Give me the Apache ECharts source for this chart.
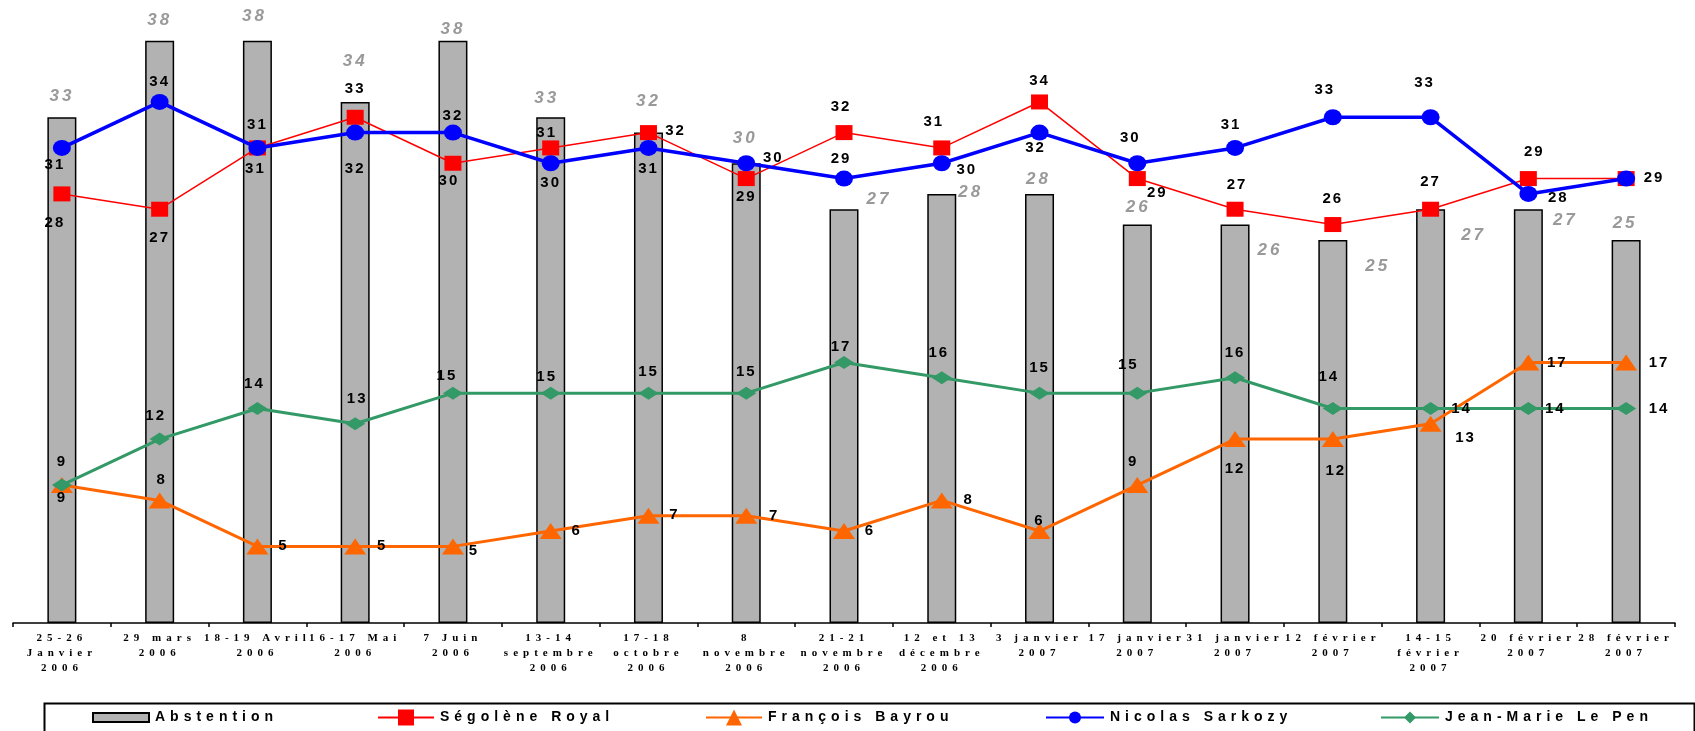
<!DOCTYPE html>
<html>
<head>
<meta charset="utf-8">
<script src="https://cdn.jsdelivr.net/npm/echarts@6/dist/echarts.min.js"></script>
<style>
html,body{margin:0;padding:0;background:#fff;}
#c{width:1695px;height:731px;}
</style>
</head>
<body>
<div id="c"></div>
<script>
// ---- data ----
const categories = [
  "25-26\nJanvier\n2006", "29 mars\n2006", "18-19 Avril\n2006", "16-17 Mai\n2006", "7 Juin\n2006",
  "13-14\nseptembre\n2006", "17-18\noctobre\n2006", "8\nnovembre\n2006", "21-21\nnovembre\n2006",
  "12 et 13\ndécembre\n2006", "3 janvier\n2007", "17 janvier\n2007", "31 janvier\n2007",
  "12 février\n2007", "14-15\nfévrier\n2007", "20 février\n2007", "28 février\n2007"
];
const abstention = [33, 38, 38, 34, 38, 33, 32, 30, 27, 28, 28, 26, 26, 25, 27, 27, 25];
const royal      = [28, 27, 31, 33, 30, 31, 32, 29, 32, 31, 34, 29, 27, 26, 27, 29, 29];
const bayrou     = [9, 8, 5, 5, 5, 6, 7, 7, 6, 8, 6, 9, 12, 12, 13, 17, 17];
const sarkozy    = [31, 34, 31, 32, 32, 30, 31, 30, 29, 30, 32, 30, 31, 33, 33, 28, 29];
const lepen      = [9, 12, 14, 13, 15, 15, 15, 15, 17, 16, 15, 15, 16, 14, 14, 14, 14];
const seriesNames = ["Abstention", "Ségolène Royal", "François Bayrou", "Nicolas Sarkozy", "Jean-Marie Le Pen"];

// ---- label placement (style only) ----
const barLabelOffsets = [[0,-21],[0,-20],[-3,-24],[0,-41],[0,-11],[-4,-19],[0,-31],[-1,-25],[35,-10],[29,-2],[-1,-15],[1,-17],[35,26],[45,26],[43,26],[37,11],[-1,-17]];
const sarkozyOff = [[-7,17],[0,-20],[0,-23],[0,36],[0,-17],[0,20],[0,21],[27,-5],[-3,-20],[25,7],[-4,15],[-7,-25],[-4,-23],[-8,-27],[-6,-34],[30,4],[28,-1]];
const royalOff = [[-7,29],[0,29],[-2,21],[0,-28],[-4,18],[-4,-15],[27,-2],[0,18],[-3,-26],[-8,-26],[0,-21],[20,14],[2,-24],[0,-26],[0,-27],[6,-27],null];
const bayrouOff = [[0,13],[2,-21],[26,-1],[27,-1],[21,4],[26,0],[26,-1],[28,0],[26,0],[27,-1],[0,-10],[-4,-23],[0,30],[3,32],[35,14],[29,0],[33,0]];
const lepenOff = [[0,-23],[-4,-23],[-3,-25],[2,-25],[-6,-17],[-4,-16],[0,-21],[0,-21],[-3,-16],[-3,-25],[0,-25],[-9,-28],[0,-25],[-4,-32],[31,0],[27,0],[33,0]];

// ---- letter spacing emulation on canvas (by font size) ----
(function(){
  const P = CanvasRenderingContext2D.prototype;
  if (!('letterSpacing' in P)) return;
  const d = Object.getOwnPropertyDescriptor(P, 'font');
  const map = {11: '5px', 14: '5px', 15: '2px', 17: '3px'};
  Object.defineProperty(P, 'font', {
    configurable: true,
    get(){ return d.get.call(this); },
    set(v){
      d.set.call(this, v);
      const m = /(\d+(?:\.\d+)?)px/.exec(v);
      const s = m && map[Math.round(parseFloat(m[1]))];
      this.letterSpacing = s || '0px';
    }
  });
})();

const SANS = 'Arial, "Liberation Sans", sans-serif';
const SERIF = '"Times New Roman", "Liberation Serif", serif';

function lineData(vals, offs) {
  return vals.map((v, i) => ({
    value: v,
    label: offs[i] ? { offset: offs[i] } : { show: false }
  }));
}
const lineLabel = {
  show: true, position: 'inside', align: 'center', verticalAlign: 'middle',
  color: '#000', fontFamily: SANS, fontWeight: 'bold', fontSize: 15
};

const chart = echarts.init(document.getElementById('c'), null, {renderer: 'canvas'});

const legendPos = [
  {left: 92, w: 56, h: 9},
  {left: 377, w: 56, h: 20},
  {left: 705, w: 56, h: 20},
  {left: 1045, w: 58, h: 15},
  {left: 1380, w: 58, h: 15}
];

const option = {
  animation: false,
  backgroundColor: '#fff',
  grid: {left: 13, right: 20, top: 10, bottom: 108, containLabel: false},
  legend: seriesNames.map((n, i) => ({
    data: [n],
    left: legendPos[i].left,
    top: 708,
    itemWidth: legendPos[i].w,
    itemHeight: legendPos[i].h,
    icon: i === 0 ? 'rect' : undefined,
    padding: 0,
    selectedMode: false,
    textStyle: {fontFamily: SANS, fontWeight: 'bold', fontSize: 14, color: '#000', padding: [0,0,0,1]}
  })),
  graphic: [{
    type: 'rect', left: 42, top: 701, silent: true,
    shape: {width: 1650, height: 29},
    style: {fill: 'none', stroke: '#000', lineWidth: 2}
  }],
  xAxis: {
    type: 'category',
    data: categories,
    boundaryGap: true,
    axisLine: {lineStyle: {color: '#000', width: 1.5}},
    axisTick: {show: true, length: 4, lineStyle: {color: '#000', width: 1.5}},
    axisLabel: {
      interval: 0, margin: 8, hideOverlap: false,
      fontFamily: SERIF, fontWeight: 'bold', fontSize: 11, lineHeight: 15, color: '#000'
    }
  },
  yAxis: {
    type: 'value', min: 0, max: 40, interval: 5,
    show: false, splitLine: {show: false}
  },
  series: [
    {
      name: seriesNames[0], type: 'bar', barWidth: 29,
      itemStyle: {color: '#b2b2b2', borderColor: '#000', borderWidth: 1.5},
      data: abstention.map((v, i) => ({value: v, label: {offset: barLabelOffsets[i]}})),
      label: {
        show: true, position: 'top', distance: 0, align: 'center', verticalAlign: 'middle',
        color: '#999999', fontFamily: SANS, fontWeight: 'bold', fontStyle: 'italic', fontSize: 17
      },
      z: 1
    },
    {
      name: seriesNames[1], type: 'line',
      symbol: 'rect', symbolSize: [17, 15],
      lineStyle: {color: '#ff0000', width: 1.5},
      itemStyle: {color: '#ff0000'},
      data: lineData(royal, royalOff),
      label: lineLabel, z: 2
    },
    {
      name: seriesNames[2], type: 'line',
      symbol: 'triangle', symbolSize: [22, 16],
      lineStyle: {color: '#ff6600', width: 3},
      itemStyle: {color: '#ff6600'},
      data: lineData(bayrou, bayrouOff),
      label: lineLabel, z: 3
    },
    {
      name: seriesNames[3], type: 'line',
      symbol: 'circle', symbolSize: [18, 16],
      lineStyle: {color: '#0000ff', width: 3.5},
      itemStyle: {color: '#0000ff'},
      data: lineData(sarkozy, sarkozyOff),
      label: lineLabel, z: 4
    },
    {
      name: seriesNames[4], type: 'line',
      symbol: 'diamond', symbolSize: [20, 13],
      lineStyle: {color: '#339966', width: 3},
      itemStyle: {color: '#339966'},
      data: lineData(lepen, lepenOff),
      label: lineLabel, z: 5
    }
  ]
};
chart.setOption(option);
</script>
</body>
</html>
